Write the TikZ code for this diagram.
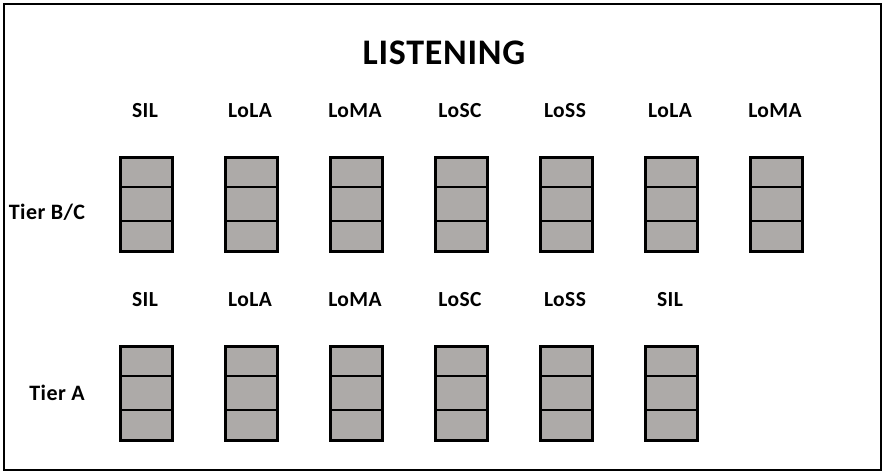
\documentclass[tikz,border=0pt]{standalone}
\usepackage{fontspec}
\setmainfont{Carlito}[LetterSpace=2]
\definecolor{cellgray}{RGB}{173,170,168}
\begin{document}
\begin{tikzpicture}[x=1pt,y=-1pt,
  cellbox/.style={draw=black,line width=3pt,fill=cellgray,minimum width=52pt,minimum height=94pt,inner sep=0pt,anchor=north west},
  lbl/.style={font=\bfseries\fontsize{21.5}{23}\selectfont,inner sep=0pt},
  rowlbl/.style={font=\bfseries\fontsize{22}{24}\selectfont,inner sep=0pt},
  divider/.style={line width=1.5pt}]
\useasboundingbox (0,0) rectangle (883,472);
\node[draw=black,line width=2pt,minimum width=877pt,minimum height=466pt,anchor=north west,inner sep=0pt] (frame) at (3,3) {};
\node[font=\bfseries\fontsize{36}{39}\selectfont,inner sep=0pt] (title) at (444,53) {LISTENING};
\node[rowlbl] (tierbc) at (47,212) {Tier B/C};
\node[rowlbl] (tiera) at (57,393) {Tier A};
% row 1
\foreach \i/\t in {0/SIL,1/LoLA,2/LoMA,3/LoSC,4/LoSS,5/LoLA,6/LoMA}{
  \node[lbl] (ta\i) at (145+105*\i,111) {\t};
  \node[cellbox] (ba\i) at (119+105*\i,155.5) {};
  \draw[divider] ([yshift=-31.3pt]ba\i.north west) -- ([yshift=-31.3pt]ba\i.north east);
  \draw[divider] ([yshift=31.3pt]ba\i.south west) -- ([yshift=31.3pt]ba\i.south east);
}
% row 2
\foreach \i/\t in {0/SIL,1/LoLA,2/LoMA,3/LoSC,4/LoSS,5/SIL}{
  \node[lbl] (tb\i) at (145+105*\i,300) {\t};
  \node[cellbox] (bb\i) at (119+105*\i,344.5) {};
  \draw[divider] ([yshift=-31.3pt]bb\i.north west) -- ([yshift=-31.3pt]bb\i.north east);
  \draw[divider] ([yshift=31.3pt]bb\i.south west) -- ([yshift=31.3pt]bb\i.south east);
}
\end{tikzpicture}
\end{document}
